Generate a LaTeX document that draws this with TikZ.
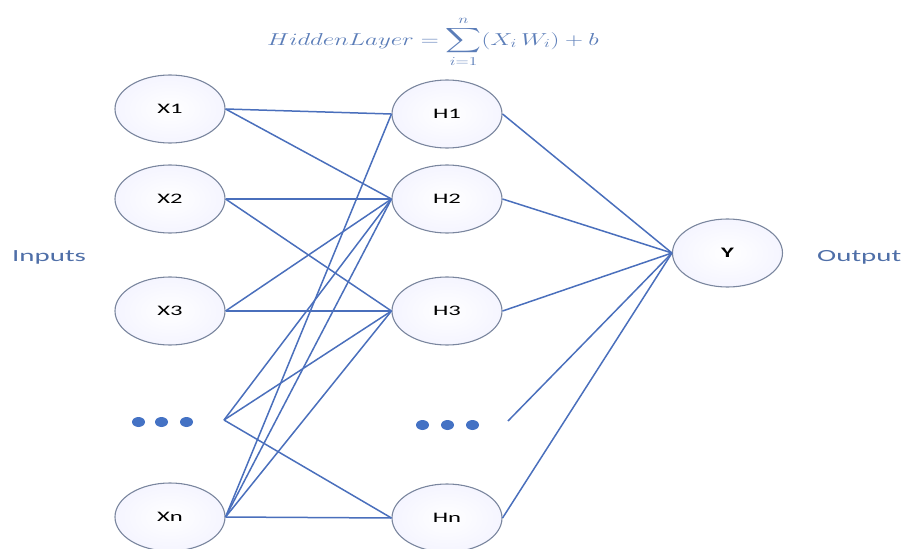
\documentclass[tikz,border=0pt]{standalone}
\usepackage{fontspec}
\usepackage{graphicx}
\usepackage{amsmath}
\usepackage{exscale}
\usetikzlibrary{shapes.geometric}
\newfontfamily\carl[FakeStretch=1.7]{Carlito}
\definecolor{linkblue}{HTML}{4A6FBC}
\definecolor{rimgray}{HTML}{7A869E}
\definecolor{txtblue}{HTML}{4F6FA8}
\definecolor{dotblue}{HTML}{4472C4}
\definecolor{fmblue}{HTML}{5B7DB8}
\begin{document}
\begin{tikzpicture}[x=1pt,y=-1pt,
  neuron/.style={ellipse, draw=rimgray, line width=1.1pt, inner color=white, outer color=blue!4!white,
    minimum width=110pt, minimum height=68pt, inner sep=0pt, font=\carl\fontsize{14.5}{16}\selectfont},
  link/.style={draw=linkblue, line width=1.5pt},
  dotm/.style={ellipse, fill=dotblue, minimum width=13pt, minimum height=10pt, inner sep=0pt},
  side/.style={font=\carl\fontsize{17}{20}\selectfont, text=txtblue, inner sep=0pt, anchor=west}]
\useasboundingbox (0,0) rectangle (906,549);

% formula
\node[inner sep=0pt, text=fmblue] (formula) at (433,42)
  {\scalebox{1.44}[1]{\fontsize{18}{21}\selectfont$\displaystyle HiddenLayer=\sum_{i=1}^{n}(X_i\,W_i)+b$}};

% side labels
\node[side] (inputs) at (12,257) {Inputs};
\node[side] (output) at (817,257) {Output};

% input layer
\node[neuron] (x1) at (170,109) {X1};
\node[neuron] (x2) at (170,199) {X2};
\node[neuron] (x3) at (170,311) {X3};
\node[neuron] (xn) at (170,517) {Xn};
\node[dotm] (xd1) at (138.5,422) {};
\node[dotm] (xd2) at (161.5,422) {};
\node[dotm] (xd3) at (186.5,422) {};
\coordinate (xd) at (224,420);

% hidden layer
\node[neuron] (h1) at (447,114) {H1};
\node[neuron] (h2) at (447,199) {H2};
\node[neuron] (h3) at (447,311) {H3};
\node[neuron] (hn) at (447,518) {Hn};
\node[dotm] (hd1) at (422.5,425) {};
\node[dotm] (hd2) at (447.5,425) {};
\node[dotm] (hd3) at (472.5,425) {};
\coordinate (hd) at (508,421);

% output
\node[neuron, font=\carl\bfseries\fontsize{14.5}{16}\selectfont] (yout) at (727.5,253) {Y};

% connections input -> hidden
\draw[link] (x1.east) -- (h1.west);
\draw[link] (x1.east) -- (h2.west);
\draw[link] (x2.east) -- (h2.west);
\draw[link] (x2.east) -- (h3.west);
\draw[link] (x3.east) -- (h2.west);
\draw[link] (x3.east) -- (h3.west);
\draw[link] (xd) -- (h2.west);
\draw[link] (xd) -- (h3.west);
\draw[link] (xd) -- (hn.west);
\draw[link] (xn.east) -- (h1.west);
\draw[link] (xn.east) -- (h2.west);
\draw[link] (xn.east) -- (h3.west);
\draw[link] (xn.east) -- (hn.west);

% hidden -> output
\draw[link] (h1.east) -- (yout.west);
\draw[link] (h2.east) -- (yout.west);
\draw[link] (h3.east) -- (yout.west);
\draw[link] (hd) -- (yout.west);
\draw[link] (hn.east) -- (yout.west);
\end{tikzpicture}
\end{document}
